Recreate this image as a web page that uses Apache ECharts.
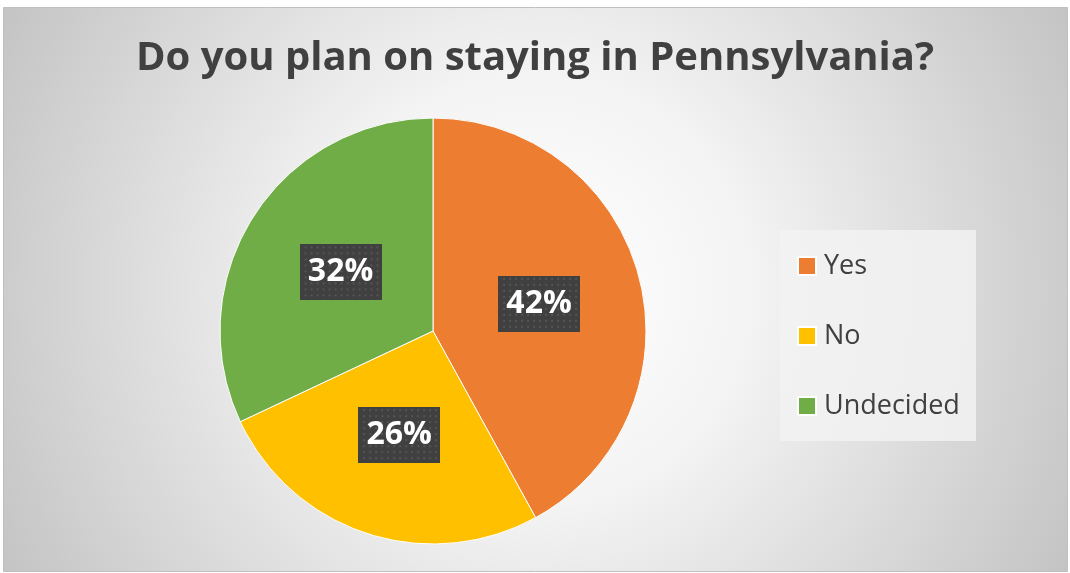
<!DOCTYPE html>
<html><head><meta charset="utf-8">
<script src="https://cdn.jsdelivr.net/npm/echarts@6/dist/echarts.min.js"></script>
<style>html,body{margin:0;padding:0;background:#fff;}#c{width:1070px;height:573px;}</style>
</head><body><div id="c"></div>
<script>
const titleText = 'Do you plan on staying in Pennsylvania?';
const categories = ['Yes', 'No', 'Undecided'];
const values = [42, 26, 32];
const colors = ['#ED7D31', '#FFC000', '#70AD47'];

function patternImage(w, h) {
  const cv = document.createElement('canvas');
  cv.width = w; cv.height = h;
  const ctx = cv.getContext('2d');
  ctx.fillStyle = '#404040';
  ctx.fillRect(0, 0, w, h);
  ctx.fillStyle = '#555555';
  for (let y = 2; y < h; y += 6) {
    for (let x = 2 + ((y / 6) % 2 ? 3 : 0); x < w; x += 6) {
      ctx.fillRect(x, y, 2, 2);
    }
  }
  return cv;
}
const bgImg = patternImage(82, 56);

const chart = echarts.init(document.getElementById('c'), null, {renderer: 'canvas'});
chart.setOption({
  animation: false,
  color: colors,
  graphic: [
    {type: 'rect', z: -10, shape: {x: 3.5, y: 7.5, width: 1064, height: 564},
     style: {fill: {type: 'radial', x: 535, y: 290, r: 600, global: true,
       colorStops: [{offset: 0, color: '#ffffff'}, {offset: 0.35, color: '#f4f4f4'}, {offset: 1, color: '#c4c4c4'}]},
       stroke: '#c0c0c0', lineWidth: 1}},
    {type: 'rect', z: -5, shape: {x: 780, y: 230, width: 196, height: 211},
     style: {fill: 'rgba(242,242,242,0.85)'}}
  ],
  title: {
    text: titleText, left: 'center', top: 34,
    textStyle: {fontFamily: 'Open Sans', fontWeight: 'bold', fontSize: 40, color: '#404040'}
  },
  legend: {
    orient: 'vertical', left: 797, top: 252,
    itemWidth: 18, itemHeight: 18, itemGap: 42, icon: 'rect', padding: 0,
    textStyle: {fontFamily: 'Open Sans', fontSize: 27, color: '#404040', lineHeight: 28, padding: [0, 0, 0, 3]},
    data: categories
  },
  series: [{
    type: 'pie', center: [433, 331], radius: 213, startAngle: 90, clockwise: true,
    itemStyle: {borderColor: '#ffffff', borderWidth: 1},
    label: {
      position: 'inside', formatter: '{d}%',
      fontFamily: 'Open Sans', fontWeight: 'bold', fontSize: 32, color: '#ffffff',
      width: 82, height: 56, align: 'center', verticalAlign: 'middle', lineHeight: 56,
      backgroundColor: {image: bgImg},
      shadowColor: 'rgba(0,0,0,0.5)', shadowBlur: 6, shadowOffsetX: 3, shadowOffsetY: 3
    },
    labelLine: {show: false},
    data: categories.map((c, i) => ({name: c, value: values[i]}))
  }]
});
</script></body></html>
